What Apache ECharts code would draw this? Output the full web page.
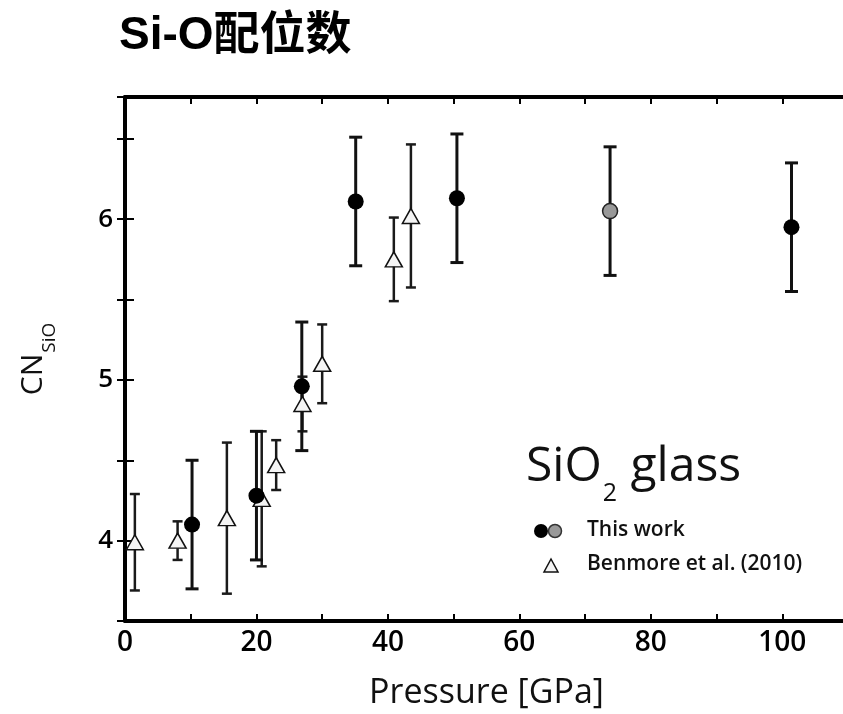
<!DOCTYPE html>
<html>
<head>
<meta charset="utf-8">
<script src="https://cdn.jsdelivr.net/npm/echarts@6/dist/echarts.min.js"></script>
<style>
html,body{margin:0;padding:0;background:#fff;}
#c{width:843px;height:714px;}
</style>
</head>
<body>
<div id="c"></div>
<script>
// ---- data ----
const titleText = 'Si-O配位数';
const xName = 'Pressure [GPa]';
const xTickLabels = [0, 20, 40, 60, 80, 100];
const yTickLabels = [4, 5, 6];

// This work (black circles)
const thisWorkP   = [10.2, 20.0, 26.9, 35.1, 50.5, 101.4];
const thisWorkCN  = [4.10, 4.28, 4.96, 6.11, 6.13, 5.95];
const thisWorkErr = [0.40, 0.40, 0.40, 0.40, 0.40, 0.40];

// This work (grey circle)
const thisWorkGreyP   = [73.8];
const thisWorkGreyCN  = [6.05];
const thisWorkGreyErr = [0.40];

// Benmore et al. (2010) (triangles)
const benmoreP   = [1.5, 8.0, 15.5, 20.8, 23.0, 27.0, 30.0, 40.9, 43.5];
const benmoreCN  = [3.99, 4.00, 4.14, 4.26, 4.47, 4.85, 5.10, 5.75, 6.02];
const benmoreErr = [0.30, 0.12, 0.47, 0.42, 0.155, 0.17, 0.245, 0.26, 0.445];

// ---- helpers ----
function errData(P, CN, E) { return P.map((p, i) => [p, CN[i] - E[i], CN[i] + E[i]]); }
function ptData(P, CN) { return P.map((p, i) => [p, CN[i]]); }
function errBar(color, lw, capHalf) {
  return function (params, api) {
    const x = api.value(0), lo = api.value(1), hi = api.value(2);
    const a = api.coord([x, lo]), b = api.coord([x, hi]);
    const st = { stroke: color, lineWidth: lw };
    return { type: 'group', children: [
      { type: 'line', shape: { x1: a[0], y1: a[1], x2: b[0], y2: b[1] }, style: st },
      { type: 'line', shape: { x1: a[0] - capHalf, y1: a[1], x2: a[0] + capHalf, y2: a[1] }, style: st },
      { type: 'line', shape: { x1: b[0] - capHalf, y1: b[1], x2: b[0] + capHalf, y2: b[1] }, style: st }
    ]};
  };
}

const FONT = "'Open Sans', 'Noto Sans', sans-serif";
const X_MIN = 0, X_MAX = 110, Y_MIN = 3.5, Y_MAX = 6.76;

const chart = echarts.init(document.getElementById('c'), null, { renderer: 'canvas' });

const axisLineStyle = { color: '#000', width: 4 };
const option = {
  backgroundColor: '#fff',
  animation: false,
  title: {
    text: titleText, left: 114, top: 8,
    textStyle: { fontFamily: "'Liberation Sans', 'Noto Sans CJK SC', sans-serif", fontSize: 46, fontWeight: 'bold', color: '#000' }
  },
  grid: { left: 125, right: -5, top: 97, bottom: 93, containLabel: false, outerBoundsMode: 'none' },
  xAxis: [
    {
      type: 'value', position: 'bottom', min: X_MIN, max: X_MAX, interval: 10,
      name: xName, nameLocation: 'middle', nameGap: 55,
      nameTextStyle: { fontFamily: FONT, fontSize: 34, fontWeight: 500, color: '#111', letterSpacing: 1.5 },
      axisLine: { show: true, onZero: false, lineStyle: axisLineStyle },
      axisTick: { show: true, inside: true, length: 7, lineStyle: { color: '#000', width: 2 } },
      axisLabel: {
        margin: 8, fontFamily: FONT, fontSize: 28, fontWeight: 600, color: '#000',
        formatter: v => xTickLabels.indexOf(v) >= 0 ? String(v) : ''
      },
      splitLine: { show: false }
    },
    {
      type: 'value', position: 'top', min: X_MIN, max: X_MAX, interval: 10,
      axisLine: { show: true, onZero: false, lineStyle: axisLineStyle },
      axisTick: { show: true, inside: true, length: 7, lineStyle: { color: '#000', width: 2 } },
      axisLabel: { show: false }, splitLine: { show: false }
    }
  ],
  yAxis: [
    {
      type: 'value', position: 'left', min: Y_MIN, max: Y_MAX, interval: 0.5,
      name: '{a|CN}{b|SiO}', nameLocation: 'middle', nameGap: 63, nameRotate: 90,
      nameTextStyle: {
        color: '#111',
        rich: {
          a: { fontFamily: FONT, fontSize: 30, fontWeight: 500, color: '#111', lineHeight: 30, verticalAlign: 'top' },
          b: { fontFamily: FONT, fontSize: 19, fontWeight: 500, color: '#111', lineHeight: 44, verticalAlign: 'top', padding: [22, 0, 0, 1], letterSpacing: 1 }
        }
      },
      axisLine: { show: true, onZero: false, lineStyle: axisLineStyle },
      axisTick: { show: true, inside: true, length: 9, lineStyle: { color: '#000', width: 2 } },
      axisLabel: {
        margin: 12, fontFamily: FONT, fontSize: 26, fontWeight: 600, color: '#000',
        formatter: v => yTickLabels.indexOf(v) >= 0 ? String(v) : ''
      },
      splitLine: { show: false }
    },
    {
      type: 'value', position: 'right', min: Y_MIN, max: Y_MAX, interval: 0.5,
      axisLine: { show: false },
      axisTick: { show: true, inside: true, length: 8, lineStyle: { color: '#000', width: 2 } },
      axisLabel: { show: false }, splitLine: { show: false }
    }
  ],
  graphic: [
    {
      type: 'text', left: 526, top: 443, z: 10,
      style: {
        text: '{a|SiO}{b|2}{a| glass}',
        rich: {
          a: { fontFamily: FONT, fontSize: 48, fontWeight: 400, fill: '#111', lineHeight: 52, verticalAlign: 'top' },
          b: { fontFamily: FONT, fontSize: 25, fontWeight: 400, fill: '#111', lineHeight: 66, verticalAlign: 'top', padding: [38, 1, 0, 1] }
        }
      }
    },
    { type: 'circle', shape: { cx: 541, cy: 531, r: 7 }, style: { fill: '#000' }, z: 10 },
    { type: 'circle', shape: { cx: 555, cy: 531, r: 6.5 }, style: { fill: '#999', stroke: '#333', lineWidth: 1.5 }, z: 10 },
    { type: 'polygon', shape: { points: [[551, 559], [544, 572], [558, 572]] }, style: { fill: '#f4f4f4', stroke: '#111', lineWidth: 1.5 }, z: 10 },
    { type: 'text', left: 587, top: 520, z: 10, style: { text: 'This work', fontFamily: FONT, fontSize: 21, fontWeight: 600, fill: '#111' } },
    { type: 'text', left: 587, top: 554, z: 10, style: { text: 'Benmore et al. (2010)', fontFamily: FONT, fontSize: 21, fontWeight: 600, fill: '#111' } }
  ],
  series: [
    {
      type: 'custom', name: 'Benmore err', xAxisIndex: 0, yAxisIndex: 0, silent: true, z: 2,
      renderItem: errBar('#1a1a1a', 2.5, 5),
      encode: { x: 0, y: [1, 2] },
      data: errData(benmoreP, benmoreCN, benmoreErr)
    },
    {
      type: 'custom', name: 'This work err', xAxisIndex: 0, yAxisIndex: 0, silent: true, z: 2,
      renderItem: errBar('#111', 3, 6.5),
      encode: { x: 0, y: [1, 2] },
      data: errData(thisWorkP.concat(thisWorkGreyP), thisWorkCN.concat(thisWorkGreyCN), thisWorkErr.concat(thisWorkGreyErr))
    },
    {
      type: 'scatter', name: 'Benmore et al. (2010)', xAxisIndex: 0, yAxisIndex: 0, z: 3,
      symbol: 'triangle', symbolSize: [17, 15],
      itemStyle: { color: '#f4f4f4', borderColor: '#111', borderWidth: 1.5, opacity: 1 },
      data: ptData(benmoreP, benmoreCN)
    },
    {
      type: 'scatter', name: 'This work', xAxisIndex: 0, yAxisIndex: 0, z: 4,
      symbol: 'circle', symbolSize: 16,
      itemStyle: { color: '#000', opacity: 1 },
      data: ptData(thisWorkP, thisWorkCN)
    },
    {
      type: 'scatter', name: 'This work (grey)', xAxisIndex: 0, yAxisIndex: 0, z: 4,
      symbol: 'circle', symbolSize: 15,
      itemStyle: { color: '#999', borderColor: '#222', borderWidth: 1.5, opacity: 1 },
      data: ptData(thisWorkGreyP, thisWorkGreyCN)
    }
  ]
};
chart.setOption(option);
</script>
</body>
</html>
